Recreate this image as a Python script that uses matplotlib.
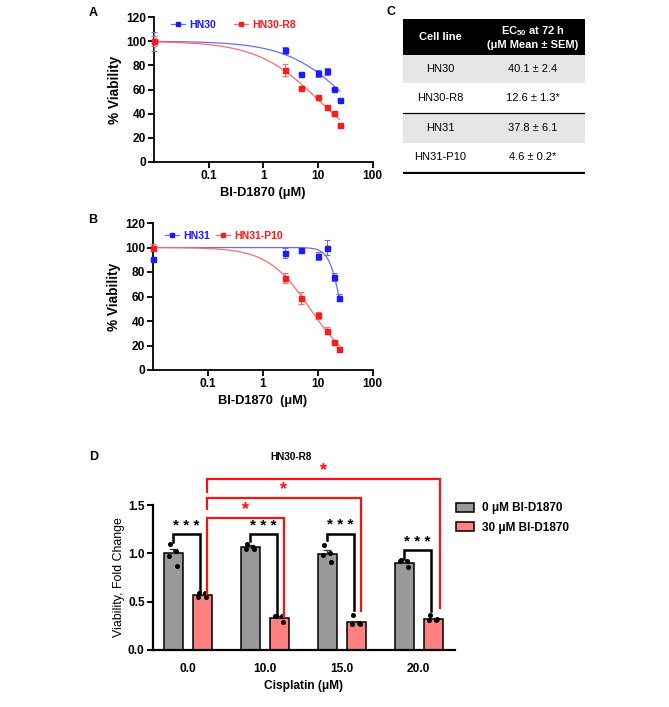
import numpy as np
import matplotlib
matplotlib.use('Agg')
import matplotlib.pyplot as plt
from matplotlib.patches import Rectangle, Patch
from matplotlib.lines import Line2D

plt.rcParams['font.family'] = ['Liberation Sans', 'DejaVu Sans']
plt.rcParams['mathtext.fontset'] = 'custom'
plt.rcParams['mathtext.rm'] = 'Liberation Sans'
plt.rcParams['mathtext.bf'] = 'Liberation Sans:bold'

# ---------------- data ----------------
conc = [0, 2.5, 5, 10, 15, 20, 25]
hn30 = [100, 92.5, 73, 73.3, 75.2, 60.2, 51.5]
hn30_err = [8, 3, 0.8, 3, 3, 0.8, 0.8]
hn30r8 = [100, 76, 61, 53.8, 45.6, 40.4, 30.5]
hn30r8_err = [4, 5, 0.8, 0.8, 1.5, 0.8, 0.8]
hn31 = [90.5, 95.5, 97.6, 93, 100, 75.8, 59]
hn31_err = [0.8, 4, 2, 3, 6, 3, 3]
hn31p10 = [100, 75.3, 59, 44.5, 32, 23, 17]
hn31p10_err = [3, 4, 5, 3, 3, 1, 2]
# fitted curve parameters (EC50, Hill slope)
fit_hn30 = (40.1, 0.75)
fit_hn30r8 = (11.0, 0.75)
fit_hn31 = (27.0, 4.0)
fit_hn31p10 = (7.3, 1.12)

cell_lines = ['HN30', 'HN30-R8', 'HN31', 'HN31-P10']
ec50_text = ['40.1 ± 2.4', '12.6 ± 1.3*', '37.8 ± 6.1', '4.6 ± 0.2*']

cis_labels = ['0.0', '10.0', '15.0', '20.0']
grey_mean = [1.00, 1.065, 0.99, 0.897]
grey_sem = [0.05, 0.02, 0.04, 0.015]
red_mean = [0.565, 0.334, 0.29, 0.32]
red_sem = [0.015, 0.015, 0.015, 0.01]
grey_pts = [[1.10, 1.02, 0.97, 0.87], [1.10, 1.07, 1.05, 1.04],
            [1.09, 1.00, 0.98, 0.91], [0.93, 0.92, 0.92, 0.86]]
red_pts = [[0.59, 0.59, 0.545, 0.545], [0.35, 0.35, 0.35, 0.29],
           [0.36, 0.28, 0.27, 0.27], [0.36, 0.31, 0.31, 0.32]]

BLUE = '#1a1aff'
BLUE_L = '#6a6aff'
RED = '#ff1a1a'
RED_L = '#ff6a6a'

W, H = 669, 707
fig = plt.figure(figsize=(W / 100, H / 100), dpi=100)


def px_axes(left, top, right, bottom):
    return fig.add_axes([left / W, 1 - bottom / H, (right - left) / W, (bottom - top) / H])


def hill(x, ec50, h):
    return 100.0 / (1 + (x / ec50) ** h)


def dose_panel(ax, s1, e1, f1, s2, e2, f2, lab1, lab2, xlabel, leg_anchor, colsp):
    xmin = 0.01
    xs = [xmin if c == 0 else c for c in conc]
    xx = np.logspace(np.log10(xmin), np.log10(25), 300)
    ax.plot(xx, hill(xx, *f1), color=BLUE_L, lw=0.9, zorder=2, clip_on=False)
    ax.plot(xx, hill(xx, *f2), color=RED_L, lw=0.9, zorder=2, clip_on=False)
    ax.errorbar(xs, s1, yerr=e1, fmt='s', color=BLUE, ms=3.6, elinewidth=0.8,
                capsize=2, capthick=0.8, zorder=3, clip_on=False, ecolor=BLUE_L)
    ax.errorbar(xs, s2, yerr=e2, fmt='s', color=RED, ms=3.6, elinewidth=0.8,
                capsize=2, capthick=0.8, zorder=4, clip_on=False, ecolor=RED_L)
    ax.set_xscale('log')
    ax.set_xlim(xmin, 100)
    ax.set_ylim(0, 120)
    ax.set_yticks(range(0, 121, 20))
    ax.set_xticks([0.1, 1, 10, 100])
    ax.set_xticklabels(['0.1', '1', '10', '100'])
    ax.minorticks_off()
    for sp in ['top', 'right']:
        ax.spines[sp].set_visible(False)
    for sp in ['left', 'bottom']:
        ax.spines[sp].set_linewidth(1.3)
    ax.tick_params(width=1.3, length=4, labelsize=8.6, pad=1.5)
    for t in ax.get_xticklabels() + ax.get_yticklabels():
        t.set_fontweight('bold')
    ax.set_ylabel('% Viability', fontsize=9.8, fontweight='bold', labelpad=3)
    ax.set_xlabel(xlabel, fontsize=9.3, fontweight='bold', labelpad=4)
    h1 = Line2D([], [], color=BLUE_L, lw=0.9, marker='s', ms=3.5, mfc=BLUE, mec=BLUE)
    h2 = Line2D([], [], color=RED_L, lw=0.9, marker='s', ms=3.5, mfc=RED, mec=RED)
    leg = ax.legend([h1, h2], [lab1, lab2], ncol=2, loc='center left',
                    bbox_to_anchor=leg_anchor, frameon=False, handlelength=1.3,
                    handletextpad=0.4, columnspacing=colsp, borderpad=0, borderaxespad=0,
                    prop={'weight': 'bold', 'size': 7.6})
    for t, c in zip(leg.get_texts(), [BLUE, RED]):
        t.set_color(c)


# ---------- Panel A ----------
axA = px_axes(154, 17, 372.5, 162)
dose_panel(axA, hn30, hn30_err, fit_hn30, hn30r8, hn30r8_err, fit_hn30r8,
           'HN30', 'HN30-R8', 'BI-D1870 (μM)', (0.078, 0.945), 1.7)
fig.text(93 / W, 1 - 13 / H, 'A', fontsize=9, fontweight='bold', ha='center', va='center')

# ---------- Panel B ----------
axB = px_axes(153, 223, 372.5, 370)
dose_panel(axB, hn31, hn31_err, fit_hn31, hn31p10, hn31p10_err, fit_hn31p10,
           'HN31', 'HN31-P10', 'BI-D1870  (μM)', (0.055, 0.914), 0.6)
fig.text(93 / W, 1 - 220 / H, 'B', fontsize=9, fontweight='bold', ha='center', va='center')

# ---------- Panel C (table) ----------
axC = px_axes(403, 19, 585, 174)
axC.set_xlim(403, 585)
axC.set_ylim(174, 19)
axC.axis('off')
axC.add_patch(Rectangle((403, 19), 182, 36, facecolor='black', edgecolor='none'))
row_tops = [55, 83, 113, 143]
row_h = [28, 30, 30, 29]
row_bg = ['#e6e6e6', 'white', '#e6e6e6', 'white']
col1, col2 = 440, 533
axC.text(col1, 37, 'Cell line', color='white', fontsize=8, fontweight='bold', ha='center', va='center')
axC.text(col2, 31.5, r'EC$_{\mathbf{50}}$ at 72 h', color='white', fontsize=8, fontweight='bold',
         ha='center', va='center')
axC.text(col2, 44.5, '(μM Mean ± SEM)', color='white', fontsize=8, fontweight='bold',
         ha='center', va='center')
for i, (cl, ec) in enumerate(zip(cell_lines, ec50_text)):
    axC.add_patch(Rectangle((403, row_tops[i]), 182, row_h[i], facecolor=row_bg[i], edgecolor='none'))
    yc = row_tops[i] + row_h[i] / 2
    axC.text(col1, yc, cl, fontsize=8, ha='center', va='center')
    axC.text(col2, yc, ec, fontsize=8, ha='center', va='center')
axC.plot([403, 585], [113, 113], color='black', lw=0.9)
axC.plot([403, 585], [172.5, 172.5], color='black', lw=1.6)
fig.text(391 / W, 1 - 12 / H, 'C', fontsize=9, fontweight='bold', ha='center', va='center')

# ---------- Panel D ----------
axD = px_axes(153, 505, 455, 650)
x = np.arange(len(cis_labels))
bw = 0.25
off = 0.188
axD.bar(x - off, grey_mean, width=bw, color='#999999', edgecolor='black', lw=1.1, zorder=2)
axD.bar(x + off, red_mean, width=bw, color='#ff8080', edgecolor='black', lw=1.1, zorder=2)
axD.errorbar(x - off, grey_mean, yerr=[np.zeros(4), grey_sem], fmt='none', ecolor='#333333',
             elinewidth=0.9, capsize=3, capthick=0.9, zorder=3)
axD.errorbar(x + off, red_mean, yerr=[np.zeros(4), red_sem], fmt='none', ecolor='#333333',
             elinewidth=0.9, capsize=3, capthick=0.9, zorder=3)
jit = np.array([-0.04, 0.04, -0.05, 0.05])
for i in range(len(cis_labels)):
    axD.plot(i - off + jit, grey_pts[i], 'o', color='black', ms=2.6, zorder=4, clip_on=False)
    axD.plot(i + off + jit, red_pts[i], 'o', color='black', ms=2.6, zorder=4, clip_on=False)
axD.set_xlim(-0.45, 3.47)
axD.set_ylim(0, 1.5)
axD.set_yticks([0, 0.5, 1.0, 1.5])
axD.set_yticklabels(['0.0', '0.5', '1.0', '1.5'])
axD.set_xticks(x)
axD.set_xticklabels(cis_labels)
axD.tick_params(axis='x', length=0, pad=9)
axD.tick_params(axis='y', length=4, width=1.5, pad=2)
axD.tick_params(labelsize=8.6)
for t in axD.get_xticklabels() + axD.get_yticklabels():
    t.set_fontweight('bold')
for sp in ['top', 'right']:
    axD.spines[sp].set_visible(False)
for sp in ['left', 'bottom']:
    axD.spines[sp].set_linewidth(1.6)
axD.set_ylabel('Viability, Fold Change', fontsize=8.9, labelpad=2)
axD.set_xlabel('Cisplatin (μM)', fontsize=8.6, fontweight='bold', labelpad=4)

# black significance brackets: (left foot, top, right foot, star y)
black_br = [(1.117, 1.2, 0.59, 1.31), (1.13, 1.2, 0.36, 1.31),
            (1.14, 1.2, 0.41, 1.32), (0.94, 1.034, 0.40, 1.15)]
for i, (lf, tp, rf, sy) in enumerate(black_br):
    xl, xr = i - off, i + 0.155
    axD.plot([xl, xl, xr, xr], [lf, tp, tp, rf], color='black', lw=1.8, clip_on=False,
             zorder=5, solid_joinstyle='miter')
    axD.text((xl + xr) / 2, sy - 0.07, '* * *', fontsize=11, fontweight='bold',
             ha='center', va='baseline', clip_on=False)

# red brackets: (left foot, top, right x, right foot)
red_br = [(0.58, 1.37, 1.25, 0.345), (1.46, 1.575, 2.25, 0.40), (1.63, 1.77, 3.27, 0.43)]
for lf, tp, xr, rf in red_br:
    xl = 0.25
    axD.plot([xl, xl, xr, xr], [lf, tp, tp, rf], color='#ff1010', lw=1.6, clip_on=False,
             zorder=5, solid_joinstyle='miter')
    axD.text((xl + xr) / 2, tp + 0.035, '*', color='#ff1010', fontsize=13, fontweight='bold',
             ha='center', va='baseline', clip_on=False)

axD.text(1.34, 2.0, 'HN30-R8', fontsize=7.2, fontweight='bold', ha='center', va='center',
         clip_on=False)
fig.text(94 / W, 1 - 457 / H, 'D', fontsize=9, fontweight='bold', ha='center', va='center')

handles = [Patch(facecolor='#999999', edgecolor='black', lw=1.1),
           Patch(facecolor='#ff8080', edgecolor='black', lw=1.1)]
axD.legend(handles, ['0 μM BI-D1870', '30 μM BI-D1870'], loc='center left',
           bbox_to_anchor=(456 / W, 1 - 518 / H), bbox_transform=fig.transFigure,
           frameon=False, handlelength=1.5, handleheight=0.75, handletextpad=0.7,
           labelspacing=0.6, borderpad=0, borderaxespad=0,
           prop={'weight': 'bold', 'size': 8.5})

fig.savefig('out.png', dpi=100)
